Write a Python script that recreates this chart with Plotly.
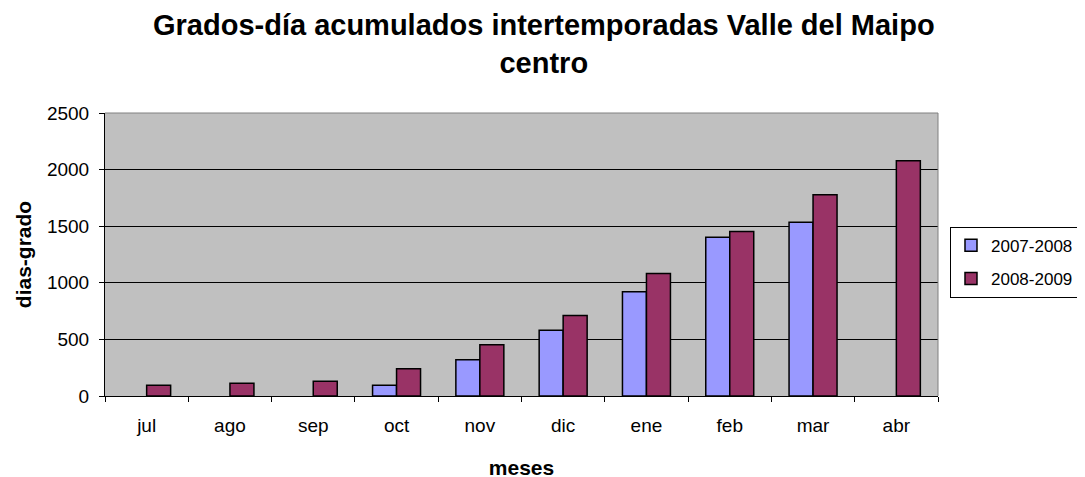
import plotly.graph_objects as go

months = ["jul", "ago", "sep", "oct", "nov", "dic", "ene", "feb", "mar", "abr"]
s_2007_2008 = [None, None, None, 94, 320, 580, 921, 1403, 1535, None]
s_2008_2009 = [94, 112, 130, 241, 453, 712, 1082, 1453, 1777, 2079]
y_ticks = [0, 500, 1000, 1500, 2000, 2500]

FONT = "Liberation Sans, Arial, sans-serif"
TITLE = "<b>Grados-día acumulados intertemporadas Valle del Maipo<br>centro</b>"

fig = go.Figure()
fig.add_trace(go.Bar(x=months, y=s_2007_2008, name="2007-2008",
                     marker=dict(color="#9999FF", line=dict(color="black", width=1.5)),
                     legendgroup="a"))
fig.add_trace(go.Bar(x=months, y=s_2008_2009, name="2008-2009",
                     marker=dict(color="#993366", line=dict(color="black", width=1.5)),
                     legendgroup="b"))

fig.update_layout(
    width=1085, height=477,
    margin=dict(l=97, r=155, t=105, b=89, autoexpand=False),
    paper_bgcolor="white", plot_bgcolor="#C0C0C0",
    font=dict(family=FONT, size=19, color="black"),
    barmode="group", bargap=0.424, bargroupgap=0,
    showlegend=True,
    legend=dict(x=1.0144, xanchor="left", y=0.598, yanchor="top",
                bordercolor="black", borderwidth=1, bgcolor="white",
                traceorder="grouped", tracegroupgap=8,
                font=dict(family=FONT, size=17)),
    xaxis=dict(title=dict(text="<b>meses</b>", font=dict(size=21), standoff=25),
               showline=True, linecolor="black", linewidth=1,
               ticks="outside", tickson="boundaries", ticklen=5, tickcolor="black",
               ticklabelstandoff=12,
               showgrid=False, automargin=False),
    yaxis=dict(title=dict(text="<b>dias-grado</b>", font=dict(size=21), standoff=9),
               range=[0, 2500], tickvals=y_ticks,
               showline=True, linecolor="black", linewidth=1,
               ticks="outside", ticklen=5, tickcolor="black",
               ticklabelstandoff=6,
               showgrid=True, gridcolor="black", gridwidth=1, zeroline=False,
               automargin=False),
)
fig.add_annotation(text=TITLE, xref="paper", yref="paper", x=0.527, y=1.0,
                   xanchor="center", yanchor="bottom", yshift=32, showarrow=False,
                   align="center", font=dict(family=FONT, size=29, color="black"))
# plot-area frame (top and right edges, gray as in the original)
fig.add_shape(type="line", xref="paper", yref="paper", x0=0, x1=1, y0=1, y1=1,
              line=dict(color="#808080", width=1), layer="above")
fig.add_shape(type="line", xref="paper", yref="paper", x0=1, x1=1, y0=0, y1=1,
              line=dict(color="#808080", width=1), layer="above")

fig.write_html("out.html")
